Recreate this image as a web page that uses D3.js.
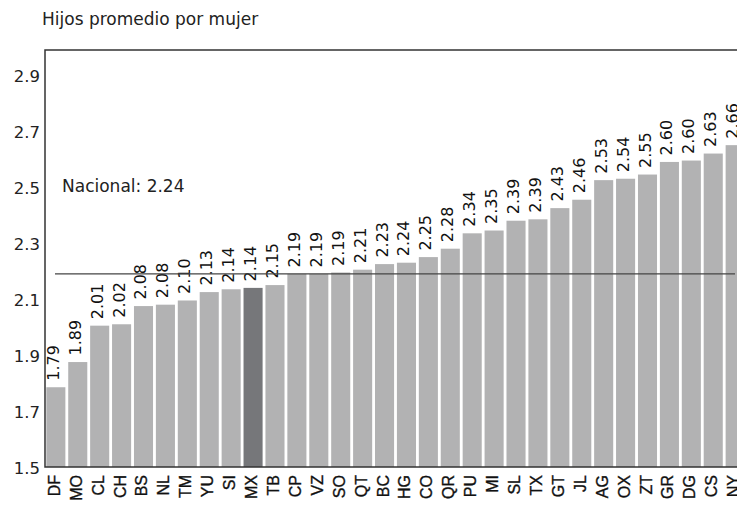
<!DOCTYPE html>
<html>
<head>
<meta charset="utf-8">
<script src="https://cdn.jsdelivr.net/npm/d3@7"></script>
<style>
  body { margin: 0; background: #fff; }
  svg { display: block; }
</style>
</head>
<body>
<div id="chart"></div>
<script>
// state codes and average children per woman
const estados = ["DF","MO","CL","CH","BS","NL","TM","YU","SI","MX","TB","CP","VZ","SO","QT","BC",
                 "HG","CO","QR","PU","MI","SL","TX","GT","JL","AG","OX","ZT","GR","DG","CS","NY"]
const hijos = [1.79,1.89,2.01,2.02,2.08,2.08,2.10,2.13,2.14,2.14,2.15,2.19,2.19,2.19,2.21,2.23,
               2.24,2.25,2.28,2.34,2.35,2.39,2.39,2.43,2.46,2.53,2.54,2.55,2.60,2.60,2.63,2.66]
// bar heights as drawn (slightly off the printed labels in the original)
const alturas = [1.785,1.875,2.005,2.01,2.075,2.08,2.095,2.125,2.135,2.14,2.15,2.19,2.19,2.195,2.205,2.225,
                 2.23,2.25,2.28,2.335,2.345,2.38,2.385,2.425,2.455,2.525,2.53,2.545,2.59,2.595,2.62,2.65]
const yTicks = [1.5,1.7,1.9,2.1,2.3,2.5,2.7,2.9]
const nacional = 2.19
const nacionalLabel = "Nacional: 2.24"
const destacado = "MX"

const W = 737, H = 506
const margin = {top: 50, right: 0, bottom: 39, left: 45}
const fuente = "'DejaVu Sans'"

const svg = d3.select("#chart").append("svg")
    .attr("width", W).attr("height", H)

const x = d3.scaleBand()
    .domain(estados)
    .range([margin.left, 746])
    .paddingInner(0.13)
    .paddingOuter(0.06)

const y = d3.scaleLinear()
    .domain([1.5, 2.99])
    .range([H - margin.bottom, margin.top])

// bars
svg.append("g")
    .selectAll("rect")
    .data(estados)
    .join("rect")
    .attr("x", d => x(d))
    .attr("y", (d, i) => y(alturas[i]))
    .attr("width", x.bandwidth())
    .attr("height", (d, i) => y(1.5) - y(alturas[i]))
    .attr("fill", d => d == destacado ? "#76777a" : "#b2b2b3")

// value labels, rotated
svg.append("g")
    .selectAll("text")
    .data(estados)
    .join("text")
    .attr("transform", (d, i) => `translate(${x(d) + x.bandwidth()/2 + 3},${y(alturas[i]) - 6.5}) rotate(-90)`)
    .attr("text-anchor", "start")
    .style("font", `16px ${fuente}`)
    .attr("fill", "#111")
    .text((d, i) => hijos[i].toFixed(2))

// national line
svg.append("line")
    .attr("x1", 55).attr("x2", 735)
    .attr("y1", y(nacional)).attr("y2", y(nacional))
    .attr("stroke", "#444").attr("stroke-width", 1.3)

svg.append("text")
    .attr("x", 62).attr("y", 191.5)
    .style("font", `17px ${fuente}`)
    .attr("fill", "#222")
    .text(nacionalLabel)

// axes
const yAxis = svg.append("g")
    .attr("transform", `translate(${margin.left},0)`)
    .call(d3.axisLeft(y).tickValues(yTicks).tickFormat(d3.format(".1f")).tickSize(0).tickPadding(5))
yAxis.select(".domain").remove()
yAxis.selectAll("text")
    .attr("dy", "0.4em")
    .style("font", `16.5px ${fuente}`)
    .attr("fill", "#222")

const xAxis = svg.append("g")
    .attr("transform", `translate(0,${H - margin.bottom})`)
    .call(d3.axisBottom(x).tickSize(0).tickPadding(0))
xAxis.select(".domain").remove()
xAxis.selectAll("text")
    .attr("transform", "rotate(-90)")
    .attr("text-anchor", "end")
    .attr("x", -8)
    .attr("y", 4)
    .attr("dy", 0)
    .style("font", "16px 'Liberation Sans'")
    .attr("fill", "#111")
    .attr("stroke", "#111")
    .attr("stroke-width", 0.35)

// frame: left, bottom, top
svg.append("path")
    .attr("d", `M${W},${margin.top}H${margin.left}V${H - margin.bottom}H${W}`)
    .attr("fill", "none")
    .attr("stroke", "#333")
    .attr("stroke-width", 1.5)

// title
svg.append("text")
    .attr("x", 42).attr("y", 25)
    .style("font", `17px ${fuente}`)
    .attr("fill", "#222")
    .text("Hijos promedio por mujer")
</script>
</body>
</html>
